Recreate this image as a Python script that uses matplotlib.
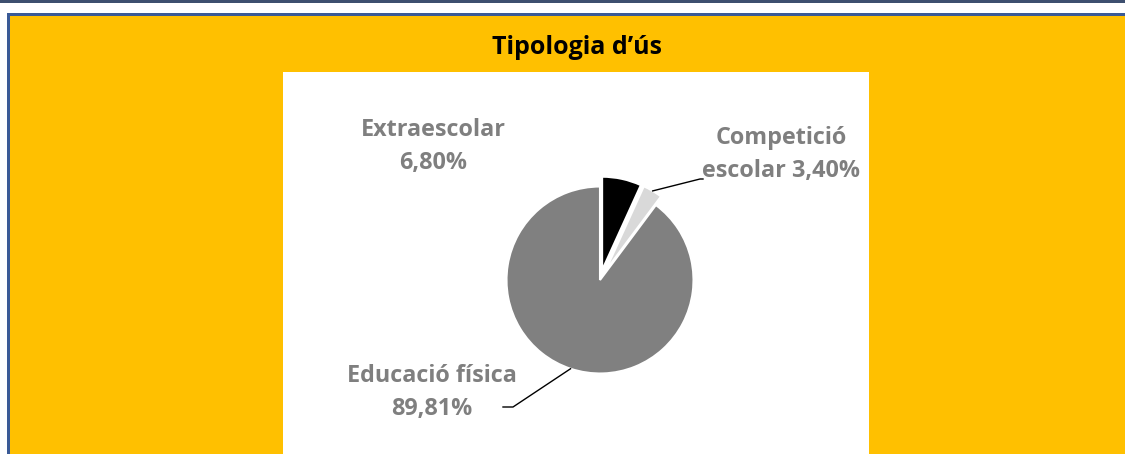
import numpy as np
import matplotlib.pyplot as plt
from matplotlib.patches import Rectangle

# dades del gràfic
categories = ['Extraescolar', 'Competició escolar', 'Educació física']
values = [6.80, 3.40, 89.81]
label_fmt = ['Extraescolar\n{}', 'Competició\nescolar {}', 'Educació física\n{}']
title = 'Tipologia d\u2019ús'

colors = ['#000000', '#D9D9D9', '#808080']

W, H = 1125, 454
fig = plt.figure(figsize=(W / 100, H / 100), dpi=100, facecolor='white')
ax = fig.add_axes([0, 0, 1, 1])

def py(y):
    # coordenades de píxel amb l'origen a dalt
    return H - y

# fons i vores
ax.add_patch(Rectangle((0, py(3)), W, 3, color='#3D4F6F', lw=0))
ax.add_patch(Rectangle((7, 0), W, py(13), color='#3A5A96', lw=0))
ax.add_patch(Rectangle((10, 0), W, py(16), color='#FFC000', lw=0))
ax.add_patch(Rectangle((283, 0), 869 - 283, py(72), color='white', lw=0))

cx, cy, r = 600, py(280), 93.5
wedges, _ = ax.pie(values, colors=colors, explode=[10, 10, 0], startangle=90,
                   counterclock=False, center=(cx, cy), radius=r,
                   wedgeprops=dict(edgecolor='white', linewidth=1.5))

ax.set_xlim(0, W)
ax.set_ylim(0, H)
ax.set_aspect('auto')
ax.set_position([0, 0, 1, 1])
ax.axis('off')

ax.text(577, py(48), title, ha='center', va='center', fontsize=18,
        fontweight='bold', family='Open Sans', color='black')

pos = [(433, 147), (781, 155), (432, 392)]
for i, (v, fmt) in enumerate(zip(values, label_fmt)):
    txt = fmt.format(f'{v:.2f}%'.replace('.', ','))
    ax.text(pos[i][0], py(pos[i][1]), txt, ha='center', va='center',
            fontsize=16.8, fontweight='bold', family='Open Sans', color='#7F7F7F',
            linespacing=1.5, multialignment='center')

# línies guia
def anchor(w):
    a = np.deg2rad((w.theta1 + w.theta2) / 2)
    return w.center[0] + w.r * np.cos(a), w.center[1] + w.r * np.sin(a)

a1 = anchor(wedges[1])
ax.plot([a1[0], 700, 703], [a1[1], py(179), py(179)], color='black', lw=1)
a2 = anchor(wedges[2])
ax.plot([a2[0], 513, 503], [a2[1], py(407), py(407)], color='black', lw=1)

fig.savefig('out.png', dpi=100, facecolor='white')
